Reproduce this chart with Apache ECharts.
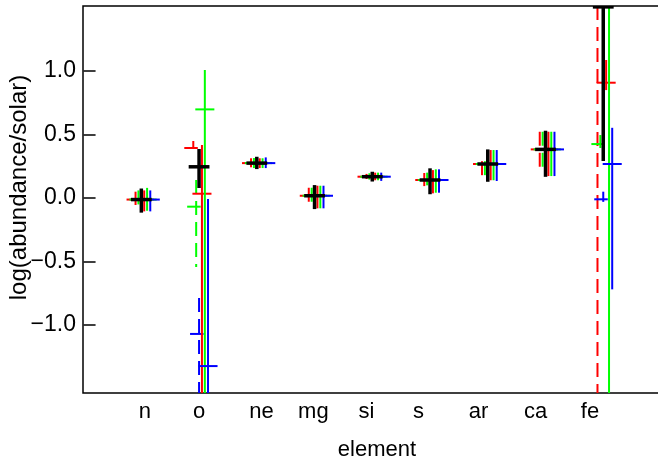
<!DOCTYPE html>
<html><head><meta charset="utf-8">
<script src="https://cdn.jsdelivr.net/npm/echarts@6/dist/echarts.min.js"></script>
<style>html,body{margin:0;padding:0;background:#fff}#c{width:658px;height:463px}</style>
</head><body><div id="c"></div>
<script>
// ---- data ----
const elements = ['n','o','ne','mg','si','s','ar','ca','fe'];
const elementPos = [1,2,3,4,5,6,7,8,9];
const labelPos = [1.06, 2.0, 3.08, 3.98, 4.9, 5.8, 6.84, 7.83, 8.77];
const yTicks = [-1.0, -0.5, 0.0, 0.5, 1.0];

const red1Val = [-0.012, 0.394, 0.275, 0.018, 0.168, 0.142, 0.268, 0.383, 1.8];
const red1Lo  = [-0.055, 0.394, 0.242, -0.042, 0.15, 0.094, 0.18, 0.228, -2.5];
const red1Hi  = [0.05, 0.449, 0.313, 0.081, 0.19, 0.197, 0.29, 0.522, 3.0];

const green1Val = [-0.012, -0.068, 0.275, 0.018, 0.168, 0.142, 0.268, 0.383, 0.425];
const green1Lo  = [-0.08, -0.543, 0.236, -0.068, 0.145, 0.10, 0.18, 0.228, 0.394];
const green1Hi  = [0.06, 0.142, 0.315, 0.081, 0.195, 0.20, 0.29, 0.522, 0.496];

const blue1Val = [-0.012, -1.07, 0.275, 0.018, 0.168, 0.142, 0.268, 0.383, -0.01];
const blue1Lo  = [-0.1, -2.5, 0.236, -0.06, 0.145, 0.10, 0.18, 0.23, -0.03];
const blue1Hi  = [0.07, -0.787, 0.313, 0.08, 0.19, 0.20, 0.30, 0.52, 0.05];

const blackVal = [-0.012, 0.246, 0.275, 0.018, 0.168, 0.142, 0.268, 0.383, 1.505];
const blackLo  = [-0.115, 0.079, 0.228, -0.087, 0.13, 0.03, 0.128, 0.167, 0.291];
const blackHi  = [0.075, 0.386, 0.325, 0.102, 0.207, 0.234, 0.383, 0.53, 3.0];

const red2Val = [-0.012, 0.034, 0.275, 0.018, 0.168, 0.142, 0.268, 0.383, 0.908];
const red2Lo  = [-0.105, -2.5, 0.236, -0.081, 0.14, 0.037, 0.14, 0.173, 0.85];
const red2Hi  = [0.06, 0.417, 0.313, 0.097, 0.2, 0.22, 0.378, 0.522, 1.087];

const green2Val = [-0.012, 0.698, 0.275, 0.018, 0.168, 0.142, 0.268, 0.383, 2.0];
const green2Lo  = [-0.1, -2.5, 0.236, -0.081, 0.14, 0.042, 0.14, 0.173, -2.5];
const green2Hi  = [0.08, 1.008, 0.313, 0.097, 0.2, 0.226, 0.378, 0.522, 3.0];

const blue2Val = [-0.012, -1.323, 0.275, 0.018, 0.168, 0.142, 0.268, 0.383, 0.268];
const blue2Lo  = [-0.105, -2.5, 0.236, -0.081, 0.135, 0.042, 0.134, 0.173, -0.719];
const blue2Hi  = [0.06, -0.008, 0.32, 0.097, 0.2, 0.226, 0.378, 0.522, 0.553];

// ---- styles ----
const FONT = 'Liberation Sans, Arial, Helvetica, sans-serif';
const seriesDefs = [
  {name:'red1',   v:red1Val,   lo:red1Lo,   hi:red1Hi,   color:'#ff0000', off:-0.10, capL:0.156, capR:0.078, w:2, dash:[14,7]},
  {name:'green1', v:green1Val, lo:green1Lo, hi:green1Hi, color:'#00ff00', off:-0.05, capL:0.156, capR:0.078, w:2, dash:[14,7]},
  {name:'blue1',  v:blue1Val,  lo:blue1Lo,  hi:blue1Hi,  color:'#0000ff', off:0.0,   capL:0.156, capR:0.078, w:2, dash:[14,7]},
  {name:'red2',   v:red2Val,   lo:red2Lo,   hi:red2Hi,   color:'#ff0000', off:0.05,  capL:0.165, capR:0.165, w:2, dash:null},
  {name:'green2', v:green2Val, lo:green2Lo, hi:green2Hi, color:'#00ff00', off:0.10,  capL:0.165, capR:0.165, w:2, dash:null},
  {name:'blue2',  v:blue2Val,  lo:blue2Lo,  hi:blue2Hi,  color:'#0000ff', off:0.155, capL:0.165, capR:0.165, w:2, dash:null},
  {name:'black',  v:blackVal,  lo:blackLo,  hi:blackHi,  color:'#000000', off:0.0,   capL:0.18,  capR:0.18,  w:3.5, dash:null}
];

function makeRender(cfg){
  return function(params, api){
    const x = api.value(0) + cfg.off, v = api.value(1), lo = api.value(2), hi = api.value(3);
    const pL = api.coord([x - cfg.capL, v]);
    const pR = api.coord([x + cfg.capR, v]);
    const pLo = api.coord([x, lo]);
    const pHi = api.coord([x, hi]);
    return {type:'group', children:[
      {type:'line', shape:{x1:pHi[0], y1:pHi[1], x2:pLo[0], y2:pLo[1]},
       style:{stroke:cfg.color, lineWidth:cfg.w, lineDash:cfg.dash || null}},
      {type:'line', shape:{x1:pL[0], y1:pL[1], x2:pR[0], y2:pR[1]},
       style:{stroke:cfg.color, lineWidth:cfg.w}}
    ]};
  };
}

const series = seriesDefs.map(d => ({
  type:'custom', name:d.name, clip:true, silent:true,
  renderItem: makeRender(d),
  encode:{x:0, y:1},
  data: elementPos.map((p,i) => [p, d.v[i], d.lo[i], d.hi[i]])
}));

const chart = echarts.init(document.getElementById('c'), null, {renderer:'canvas'});
chart.setOption({
  animation:false,
  backgroundColor:'#fff',
  grid:{left:83, top:6, right:-3, bottom:70, show:true, borderColor:'#000', borderWidth:1.5,
        backgroundColor:'transparent', containLabel:false, outerBoundsMode:'none'},
  xAxis:{
    type:'value', min:-0.01, max:10,
    axisLine:{show:false}, splitLine:{show:false},
    axisTick:{show:false},
    axisLabel:{customValues:labelPos, color:'#000', fontFamily:FONT, fontSize:22, margin:8,
      formatter:(val)=>{ const i = labelPos.findIndex(p=>Math.abs(p-val)<1e-6); return i>=0?elements[i]:''; }},
    name:'element', nameLocation:'middle', nameGap:46, nameMoveOverlap:false,
    nameTextStyle:{color:'#000', fontFamily:FONT, fontSize:22, padding:[0,0,0,10]}
  },
  yAxis:{
    type:'value', min:-1.535, max:1.512,
    axisLine:{show:false}, splitLine:{show:false},
    axisTick:{show:true, inside:true, length:12, customValues:yTicks, lineStyle:{color:'#000', width:1.5}},
    axisLabel:{customValues:yTicks, color:'#000', fontFamily:FONT, fontSize:23, margin:7,
      formatter:(val)=> (val<0?'\u2212':'') + Math.abs(val).toFixed(1)},
    name:'log(abundance/solar)', nameLocation:'middle', nameGap:52, nameMoveOverlap:false,
    nameTextStyle:{color:'#000', fontFamily:FONT, fontSize:24, padding:[0,0,0,24]}
  },
  series: series
});
</script></body></html>
